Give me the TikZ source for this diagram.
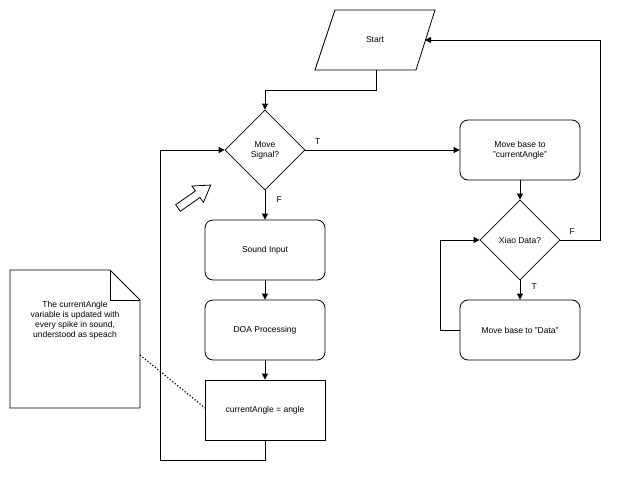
\documentclass[tikz,border=0pt]{standalone}
\usepackage{fontspec}
\setmainfont{Liberation Sans}
\usetikzlibrary{arrows.meta,shapes.geometric,positioning}

\tikzset{
  process/.style={draw, rounded corners=8pt, minimum width=120pt, minimum height=60pt, align=center},
  plain/.style={draw, minimum width=120pt, minimum height=60pt, align=center},
  decision/.style={draw, diamond, aspect=1, minimum width=80pt, minimum height=80pt, inner sep=0pt, align=center},
  flow/.style={-{Triangle[length=6pt,width=6pt]}},
  every node/.style={font=\fontsize{8.5}{10}\selectfont}
}

\begin{document}
\begin{tikzpicture}[x=1pt, y=-1pt, line width=0.8pt]
        \useasboundingbox (0,0) rectangle (619,479);

        \draw (335,10) -- (435,10) -- (416,70) -- (315,70) -- cycle;
        \node (start) at (375,40) {Start};
        \coordinate (startR) at (425,40);
        \coordinate (startB) at (376,70);

        \node[decision] (signal) at (265,150) {Move\\Signal?};
        \node[process] (sound) at (265,250) {Sound Input};
        \node[process] (doa) at (265,330) {DOA Processing};
        \node[plain] (angle) at (265,410) {currentAngle = angle};

        \node[process] (movecur) at (520,150) {Move base to\\"currentAngle"};
        \node[decision] (xiao) at (520,240) {Xiao Data?};
        \node[process] (movedata) at (520,330) {Move base to "Data"};

        % note
        \draw (10,270) -- (110,270) -- (140,300) -- (140,408) -- (10,408) -- cycle;
        \draw (110,270) -- (110,300) -- (140,300);
        \node[align=center] (note) at (75,320) {The currentAngle\\variable is updated with\\every spike in sound,\\understood as speach};

        % arrow icon
        \draw[fill=white, rotate around={35:(178,208)}] (178,204) -- (202,204) -- (202,198) -- (218,208) -- (202,218) -- (202,212) -- (178,212) -- cycle;

        \draw[flow] (startB) |- (265,90) -- (signal.north);
        \draw[flow] (signal.east) -- node[pos=0.08, above=2pt] {T} (movecur.west);
        \draw[flow] (signal.south) -- node[right=8pt, pos=0.3] {F} (sound.north);
        \draw[flow] (sound) -- (doa);
        \draw[flow] (doa) -- (angle);
        \draw[flow] (angle.south) -- (265,460) -| (160,150) -- (signal.west);

        \draw[flow] (movecur) -- (xiao);
        \draw[flow] (xiao.east) -- node[above=2pt, pos=0.3] {F} (600,240) |- (startR);
        \draw[flow] (xiao.south) -- node[right=8pt, pos=0.3] {T} (movedata.north);
        \draw[flow] (movedata.west) -- (440,330) |- (xiao.west);

        \draw[dotted, line width=1.2pt] (140,355) -- (205,408);
\end{tikzpicture}
\end{document}
